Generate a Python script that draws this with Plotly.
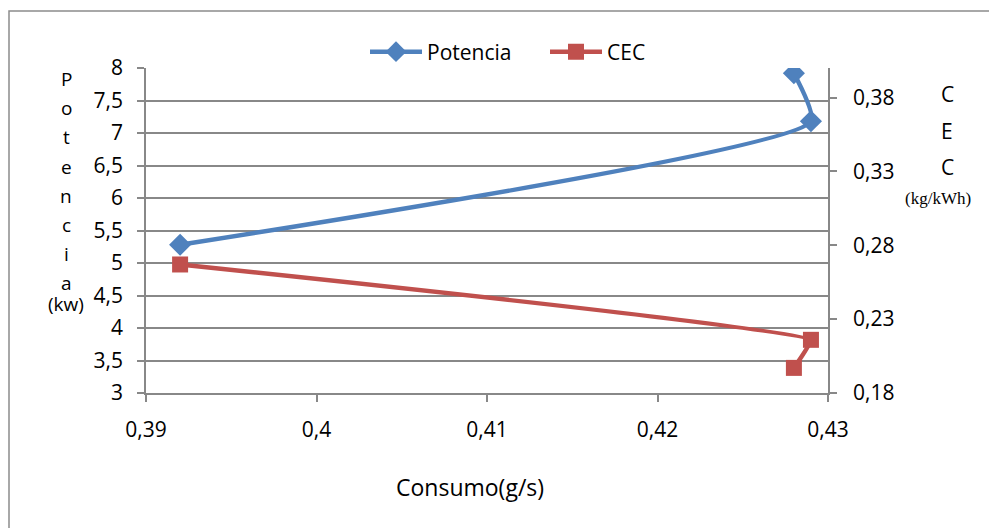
import plotly.graph_objects as go

consumo = [0.392, 0.429, 0.428]
potencia = [5.28, 7.18, 7.92]
cec = [0.267, 0.216, 0.197]

x_ticks = [0.39, 0.40, 0.41, 0.42, 0.43]
y_left_ticks = [3, 3.5, 4, 4.5, 5, 5.5, 6, 6.5, 7, 7.5, 8]
y_right_ticks = [0.18, 0.23, 0.28, 0.33, 0.38]

BLUE = "#4F81BD"
RED = "#C0504D"
GRID = "#888888"
FONT = "Open Sans, Noto Sans, sans-serif"

fig = go.Figure()
fig.add_trace(go.Scatter(
    x=consumo, y=potencia, name="Potencia", mode="lines+markers",
    line=dict(color=BLUE, width=4.5, shape="spline", smoothing=0.5),
    marker=dict(symbol="diamond", size=17, color=BLUE),
))
fig.add_trace(go.Scatter(
    x=consumo, y=cec, name="CEC", mode="lines+markers", yaxis="y2",
    line=dict(color=RED, width=4.5, shape="spline", smoothing=0.25),
    marker=dict(symbol="square", size=16, color=RED),
))

W, H = 989, 528
L, R, T, B = 146, 828, 68, 393

def px(xp):
    return (xp - L) / (R - L)

def py(yp):
    return (B - yp) / (B - T)

axis_common = dict(
    showline=True, linecolor=GRID, linewidth=1.5,
    ticks="outside", ticklen=7, tickcolor=GRID, tickwidth=1.5,
    tickfont=dict(family=FONT, size=21, color="#000000"),
    zeroline=False,
)

fig.update_layout(
    width=W, height=H,
    margin=dict(l=L, r=W - R, t=T, b=H - B, pad=0),
    paper_bgcolor="white", plot_bgcolor="white",
    separators=",.",
    showlegend=True,
    legend=dict(
        orientation="h", x=px(365), y=py(52), xanchor="left", yanchor="middle",
        font=dict(family=FONT, size=21, color="#000000"),
        bgcolor="rgba(0,0,0,0)", itemwidth=52,
        entrywidth=113, entrywidthmode="pixels",
    ),
    xaxis=dict(
        range=[0.39, 0.43], tickvals=x_ticks, showgrid=False,
        ticklabelstandoff=10, **axis_common,
    ),
    yaxis=dict(
        range=[3, 8], tickvals=y_left_ticks, showgrid=True,
        gridcolor=GRID, gridwidth=1.5, ticklabelstandoff=10, **axis_common,
    ),
    yaxis2=dict(
        range=[0.18, 0.40], tickvals=y_right_ticks, overlaying="y", side="right",
        showgrid=False, ticklabelstandoff=12, **axis_common,
    ),
)

annotations = []
letters = "Potencia"
for i, ch in enumerate(letters):
    annotations.append(dict(
        text=ch, x=px(66), y=py(79 + i * 29.2), xref="paper", yref="paper",
        showarrow=False, xanchor="center", yanchor="middle",
        font=dict(family=FONT, size=19, color="#000000"),
    ))
annotations.append(dict(
    text="(kw)", x=px(66), y=py(304), xref="paper", yref="paper",
    showarrow=False, xanchor="center", yanchor="middle",
    font=dict(family=FONT, size=19, color="#000000"),
))
for i, ch in enumerate("CEC"):
    annotations.append(dict(
        text=ch, x=px(947), y=py(94 + i * 36.5), xref="paper", yref="paper",
        showarrow=False, xanchor="center", yanchor="middle",
        font=dict(family=FONT, size=21, color="#000000"),
    ))
annotations.append(dict(
    text="(kg/kWh)", x=px(938), y=py(198), xref="paper", yref="paper",
    showarrow=False, xanchor="center", yanchor="middle",
    font=dict(family="Liberation Serif, serif", size=17, color="#000000"),
))
annotations.append(dict(
    text="Consumo(g/s)", x=px(470), y=py(487), xref="paper", yref="paper",
    showarrow=False, xanchor="center", yanchor="middle",
    font=dict(family=FONT, size=23, color="#000000"),
))
fig.update_layout(annotations=annotations)

fig.add_shape(
    type="rect", xref="paper", yref="paper",
    x0=px(9), x1=px(1100), y0=py(600), y1=py(11),
    line=dict(color="#8C8C8C", width=1.5), fillcolor="rgba(0,0,0,0)", layer="below",
)

fig.write_html("out.html")
